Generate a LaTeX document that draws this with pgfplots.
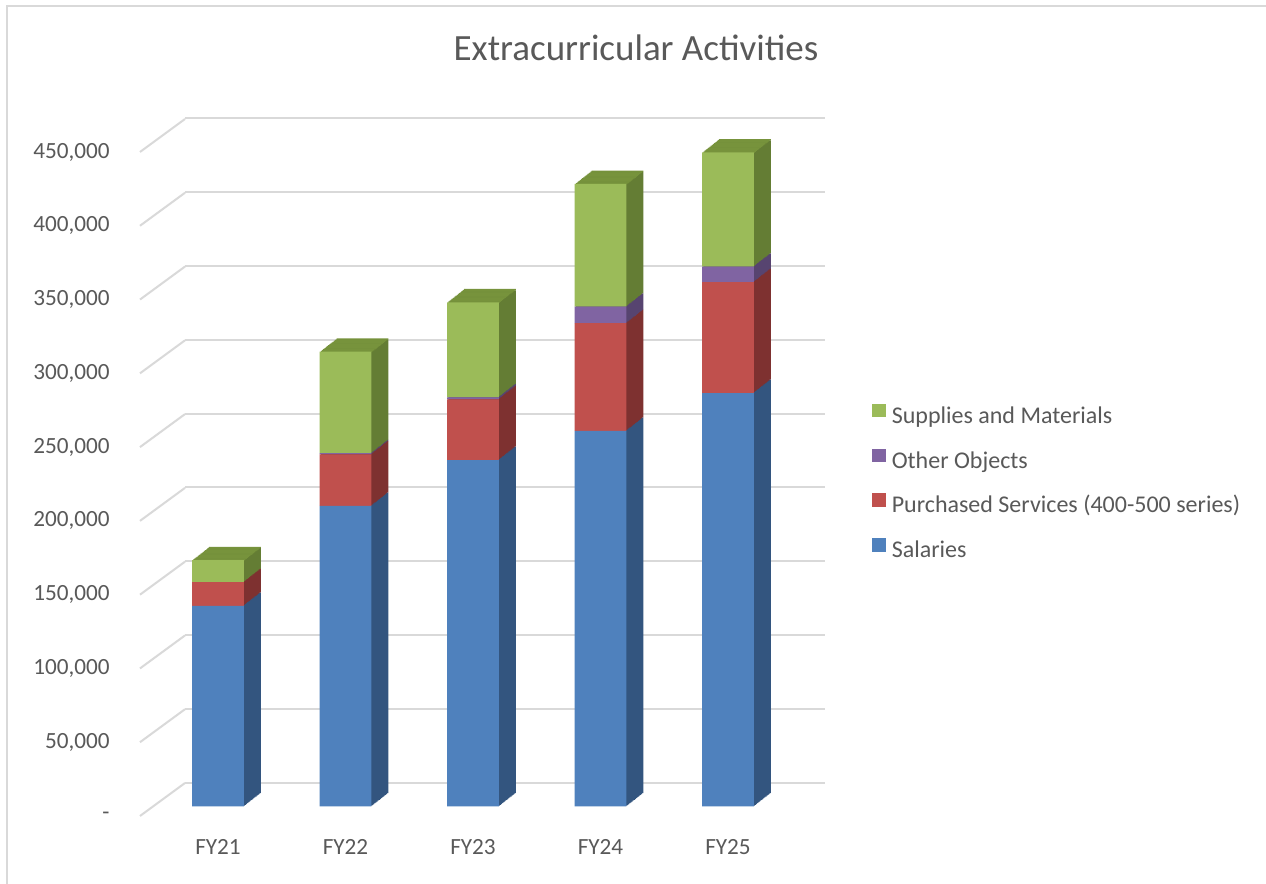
\documentclass[border=0pt]{standalone}
\usepackage{fontspec}
\setmainfont{Carlito}
\usepackage{pgfplots}
\usepackage{pgfplotstable}
\pgfplotsset{compat=1.18}

\definecolor{txt}{HTML}{595959}
\definecolor{grd}{HTML}{D9D9D9}
\definecolor{cS}{HTML}{4F81BD}
\definecolor{cP}{HTML}{C0504D}
\definecolor{cO}{HTML}{8064A2}
\definecolor{cM}{HTML}{9BBB59}
\definecolor{sS}{HTML}{33557F}
\definecolor{sP}{HTML}{7E3130}
\definecolor{sO}{HTML}{574470}
\definecolor{sM}{HTML}{647D34}
\definecolor{tM}{HTML}{77933C}

\newcommand\fs{\fontsize{11.6}{14}\selectfont}
\newcommand\fl{\fontsize{12}{14}\selectfont}

\pgfplotstableread{
x sal pur oth sup
0 136000 16000 0 15000
1 203700 34900 800 68800
2 234800 41100 1400 64400
3 254500 73000 11200 83200
4 280200 75200 10400 77500
}\datatable

\pgfplotsset{
  common/.style={scale only axis, width=318.75pt, height=332pt,
    xmin=-0.5, xmax=4.5, ymin=0, ymax=450000, scaled ticks=false,
    ybar stacked, bar width=0.404, anchor=south west},
  lg/.style={legend image code/.code={\fill[##1] (0pt,0pt) rectangle (6.7pt,6.7pt);}}
}

\begin{document}
\begin{tikzpicture}
\path[fill=white, use as bounding box] (0,0) rectangle (633pt,442pt);
\draw[grd, line width=1pt] (3.5pt,0pt) -- (3.5pt,439pt) -- (633pt,439pt);

\node[text=txt, font=\fontsize{18.5}{22}\selectfont] at (318pt,418pt) {Extracurricular Activities};

% back wall grid
\begin{axis}[scale only axis, at={(92.5pt,50.5pt)}, anchor=south west,
  width=320pt, height=332.5pt, xmin=0, xmax=1, ymin=0, ymax=450000,
  scaled ticks=false,
  ytick={0,50000,...,450000}, yticklabels={}, xtick=\empty,
  ymajorgrids, major grid style={grd, line width=1pt},
  axis line style={draw=none}, major tick style={draw=none}]
\addplot[draw=none] coordinates {(0,0)};
\end{axis}

% side wall diagonals
\foreach \i in {0,...,9}{
  \draw[grd, line width=1pt] (70pt,{34pt+\i*332pt/9}) -- ++(22.5pt,16.5pt);
}

% value labels (front edge of side wall)
\begin{axis}[scale only axis, at={(70pt,34pt)}, anchor=south west,
  width=1pt, height=332pt, xmin=0, xmax=1, ymin=0, ymax=450000,
  scaled ticks=false,
  ytick={0,50000,...,450000},
  yticklabels={-,{50,000},{100,000},{150,000},{200,000},{250,000},{300,000},{350,000},{400,000},{450,000}},
  yticklabel style={anchor=east, inner sep=0pt, xshift=-15pt, text=txt, font=\fs},
  xtick=\empty, axis line style={draw=none}, major tick style={draw=none}]
\addplot[draw=none] coordinates {(0,0)};
\end{axis}

% extruded sides and tops of the bars
\foreach \k in {16,15,...,1}{
\begin{axis}[common, hide axis, at={({77.125pt+\k*8.5pt/16},{38.75pt+\k*6.65pt/16})}]
\addplot[fill=sS, draw=none] table[x=x,y=sal]{\datatable};
\addplot[fill=sP, draw=none] table[x=x,y=pur]{\datatable};
\addplot[fill=sO, draw=none] table[x=x,y=oth]{\datatable};
\addplot[fill=sM, draw=none] table[x=x,y expr=\thisrow{sup}-900]{\datatable};
\addplot[fill=tM, draw=none] table[x=x,y expr=900]{\datatable};
\end{axis}
}

% front faces
\begin{axis}[common, at={(77.125pt,38.75pt)},
  axis line style={draw=none}, major tick style={draw=none},
  ytick=\empty, xtick=data, xticklabels={FY21,FY22,FY23,FY24,FY25},
  xticklabel style={anchor=center, yshift=-20.25pt, inner sep=0pt, text=txt, font=\fs},
  reverse legend,
  legend style={draw=none, fill=none, at={(1.1259,0.4849)}, anchor=west,
    inner sep=0pt, row sep=7.35pt, font=\fl, text=txt,
    nodes={inner xsep=3pt, inner ysep=2pt, text height=8.5pt, text depth=2.5pt}},
  legend cell align=left]
\addplot[fill=cS, draw=none, lg] table[x=x,y=sal]{\datatable};
\addplot[fill=cP, draw=none, lg] table[x=x,y=pur]{\datatable};
\addplot[fill=cO, draw=none, lg] table[x=x,y=oth]{\datatable};
\addplot[fill=cM, draw=none, lg] table[x=x,y=sup]{\datatable};
\legend{Salaries,Purchased Services (400-500 series),Other Objects,Supplies and Materials}
\end{axis}
\end{tikzpicture}
\end{document}
